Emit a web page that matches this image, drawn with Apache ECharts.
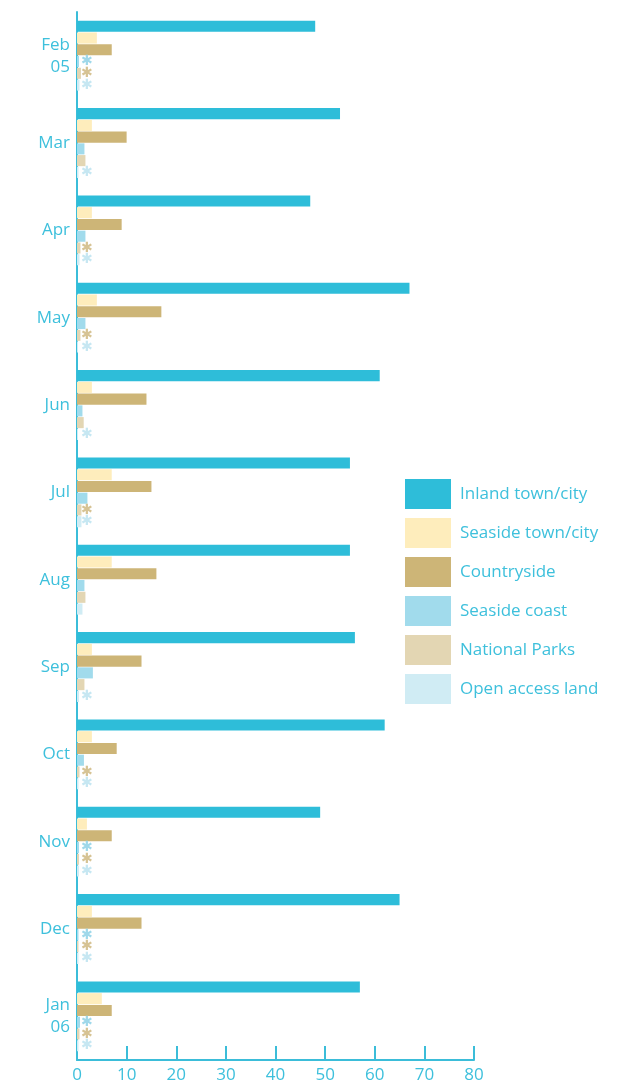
<!DOCTYPE html>
<html>
<head>
<meta charset="utf-8">
<script src="https://cdn.jsdelivr.net/npm/echarts@6/dist/echarts.min.js"></script>
<style>
html,body{margin:0;padding:0;background:#fff;}
#chart{width:637px;height:1084px;}
</style>
</head>
<body>
<div id="chart"></div>
<script>
const categories = ['Feb\n05','Mar','Apr','May','Jun','Jul','Aug','Sep','Oct','Nov','Dec','Jan\n06'];
const seriesNames = ['Inland town/city','Seaside town/city','Countryside','Seaside coast','National Parks','Open access land'];
const inland      = [48, 53, 47, 67, 61, 55, 55, 56, 62, 49, 65, 57];
const seasideTown = [4, 3, 3, 4, 3, 7, 7, 3, 3, 2, 3, 5];
const countryside = [7, 10, 9, 17, 14, 15, 16, 13, 8, 7, 13, 7];
const seasideCoast= [0.4, 1.5, 1.7, 1.7, 1.1, 2.1, 1.5, 3.2, 1.4, 0.4, 0.3, 0.6];
const nationalParks=[0.8, 1.7, 0.7, 0.7, 1.35, 0.9, 1.7, 1.5, 0.5, 0.4, 0.3, 0.5];
const openAccess  = [0.5, 0.3, 0.5, 0.2, 0.2, 0.9, 1.1, 0.4, 0.3, 0.4, 0.3, 0.3];
// asterisk flags (value shown with *)
const coastStar = [1,0,0,0,0,0,0,0,0,1,1,1];
const parksStar = [1,0,1,1,0,1,0,0,1,1,1,1];
const openStar  = [1,1,1,1,1,1,0,1,1,1,1,1];
const xTicks = {min: 0, max: 80, interval: 10};

const colors = ['#2ebdd9','#feedbc','#cdb577','#a1dbec','#e3d6b3','#d0ecf4'];
const starColors = [null,null,null,'#9fd8ea','#d6c394','#c6e7f2'];
const textColor = '#3ec0dc';
const axisColor = '#3bbdd9';
const font = 'Open Sans';

function mkSeries(i, data, stars){
  const s = {
    name: seriesNames[i], type: 'bar', data: data,
    itemStyle: {color: colors[i]},
    barCategoryGap: '20%', barGap: '6%',
    emphasis: {disabled: true}
  };
  if (stars){
    s.label = {
      show: true, position: 'insideLeft', distance: 4,
      formatter: p => stars[p.dataIndex] ? '✱' : '',
      color: starColors[i], fontSize: 14, fontFamily: 'DejaVu Sans'
    };
  }
  return s;
}

const chart = echarts.init(document.getElementById('chart'), null, {renderer: 'canvas'});
chart.setOption({
  animation: false,
  backgroundColor: '#fff',
  textStyle: {fontFamily: font},
  grid: {left: 77, right: 163, top: 12, bottom: 24, containLabel: false},
  legend: {
    orient: 'vertical', left: 405, top: 479, padding: 0,
    itemWidth: 46, itemHeight: 30, itemGap: 9,
    icon: 'rect',
    data: seriesNames,
    textStyle: {color: textColor, fontSize: 17, fontFamily: font, padding: [0,0,0,4]},
    selectedMode: false
  },
  xAxis: {
    type: 'value', min: xTicks.min, max: xTicks.max, interval: xTicks.interval,
    axisLine: {show: true, lineStyle: {color: axisColor, width: 2}},
    axisTick: {show: true, inside: true, length: 14, lineStyle: {color: axisColor, width: 2}},
    axisLabel: {color: textColor, fontSize: 17, margin: 7, fontFamily: font},
    splitLine: {show: false}
  },
  yAxis: {
    type: 'category', data: categories, inverse: true,
    axisLine: {show: true, lineStyle: {color: axisColor, width: 2}},
    axisTick: {show: false},
    axisLabel: {color: textColor, fontSize: 17, lineHeight: 22, margin: 7, align: 'right', fontFamily: font}
  },
  series: [
    mkSeries(0, inland),
    mkSeries(1, seasideTown),
    mkSeries(2, countryside),
    mkSeries(3, seasideCoast, coastStar),
    mkSeries(4, nationalParks, parksStar),
    mkSeries(5, openAccess, openStar)
  ]
});
</script>
</body>
</html>
